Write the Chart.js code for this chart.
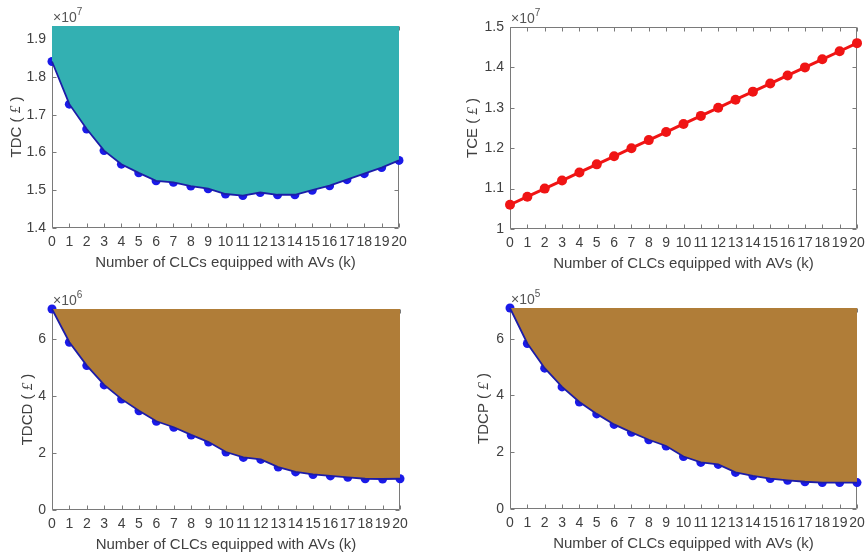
<!DOCTYPE html>
<html>
<head>
<meta charset="utf-8">
<script src="https://cdn.jsdelivr.net/npm/chart.js@4.4.1/dist/chart.umd.min.js"></script>
<style>
  body { margin: 0; background: #fff; width: 865px; height: 555px; position: relative; overflow: hidden; }
  canvas { position: absolute; }
</style>
</head>
<body>
<canvas id="tdc" style="left:0;top:0" width="435" height="280"></canvas>
<canvas id="tce" style="left:435px;top:0" width="430" height="280"></canvas>
<canvas id="tdcd" style="left:0;top:280px" width="435" height="275"></canvas>
<canvas id="tdcp" style="left:435px;top:280px" width="430" height="275"></canvas>
<script>
// number of CLCs equipped with AVs
const ks = ['0','1','2','3','4','5','6','7','8','9','10','11','12','13','14','15','16','17','18','19','20'];

// costs, in units of the axis exponent
const tdc  = [1.841, 1.728, 1.662, 1.605, 1.569, 1.546, 1.525, 1.521, 1.511, 1.504, 1.490,
              1.486, 1.494, 1.488, 1.488, 1.500, 1.512, 1.528, 1.544, 1.560, 1.579]; // x1e7
const tce  = [1.06, 1.08, 1.10, 1.12, 1.14, 1.16, 1.18, 1.20, 1.22, 1.24, 1.26,
              1.28, 1.30, 1.32, 1.34, 1.36, 1.38, 1.40, 1.42, 1.44, 1.46];          // x1e7
const tdcd = [7.07, 5.90, 5.08, 4.40, 3.90, 3.49, 3.12, 2.91, 2.64, 2.39, 2.04,
              1.85, 1.78, 1.51, 1.34, 1.25, 1.20, 1.15, 1.10, 1.09, 1.10];          // x1e6
const tdcp = [7.08, 5.83, 4.96, 4.30, 3.77, 3.35, 2.98, 2.70, 2.44, 2.22, 1.85,
              1.64, 1.57, 1.29, 1.17, 1.07, 1.01, 0.96, 0.93, 0.93, 0.93];          // x1e5

// y tick values and their labels
const tdcTicks = [1.4, 1.5, 1.6, 1.7, 1.8, 1.9];
const tdcTickLabels = ['1.4', '1.5', '1.6', '1.7', '1.8', '1.9'];
const tceTicks = [1, 1.1, 1.2, 1.3, 1.4, 1.5];
const tceTickLabels = ['1', '1.1', '1.2', '1.3', '1.4', '1.5'];
const lowTicks = [0, 2, 4, 6];
const lowTickLabels = ['0', '2', '4', '6'];

const xTitle = 'Number of CLCs equipped with AVs (k)';
const textColor = '#404040';
const axisColor = '#7a7a7a';
const sans = '"Liberation Sans", Arial, sans-serif';

// matlab-ish box with inward ticks, titles and the exponent label
const axesBox = {
  id: 'axesBox',
  beforeDatasetsDraw(chart, args, opts) {
    const { ctx, chartArea: a, scales: { x, y } } = chart;
    ctx.save();
    ctx.strokeStyle = axisColor;
    ctx.lineWidth = 1;
    const L = Math.round(a.left) + 0.5, R = Math.round(a.right) - 0.5;
    const T = Math.round(a.top) + 0.5, B = Math.round(a.bottom) - 0.5;
    ctx.beginPath();
    ctx.moveTo(L, T); ctx.lineTo(R, T); ctx.lineTo(R, B); ctx.lineTo(L, B); ctx.closePath();
    x.ticks.forEach((t, i) => {
      const px = Math.round(x.getPixelForTick(i)) + 0.5;
      ctx.moveTo(px, B); ctx.lineTo(px, B - 4);
      ctx.moveTo(px, T); ctx.lineTo(px, T + 4);
    });
    y.ticks.forEach(t => {
      const py = Math.round(y.getPixelForValue(t.value)) + 0.5;
      ctx.moveTo(L, py); ctx.lineTo(L + 4, py);
      ctx.moveTo(R, py); ctx.lineTo(R - 4, py);
    });
    ctx.stroke();
    ctx.restore();
  },
  afterDraw(chart, args, opts) {
    const { ctx, chartArea: a } = chart;
    ctx.save();
    ctx.fillStyle = textColor;

    // x title
    ctx.font = '15px ' + sans;
    ctx.textAlign = 'center';
    ctx.textBaseline = 'middle';
    ctx.fillText(xTitle, (a.left + a.right) / 2, a.bottom + 35);

    // y title, with an italic pound sign
    const parts = [
      [opts.yName + ' ( ', '15px ' + sans],
      ['\u00A3', 'italic 15px "Liberation Serif", serif'],
      [' )', '15px ' + sans]
    ];
    let total = 0;
    parts.forEach(p => { ctx.font = p[1]; p.push(ctx.measureText(p[0]).width); total += p[2]; });
    ctx.translate(opts.yTitleX, (a.top + a.bottom) / 2);
    ctx.rotate(-Math.PI / 2);
    ctx.textAlign = 'left';
    let cx = -total / 2;
    parts.forEach(p => { ctx.font = p[1]; ctx.fillText(p[0], cx, 0); cx += p[2]; });
    ctx.setTransform(1, 0, 0, 1, 0, 0);

    // x10^n above the y axis
    ctx.textBaseline = 'alphabetic';
    ctx.textAlign = 'left';
    ctx.font = '14px ' + sans;
    ctx.fillStyle = '#555';
    ctx.fillText('\u00D710', a.left + 1, a.top - 4);
    const w = ctx.measureText('\u00D710').width;
    ctx.font = '10px ' + sans;
    ctx.fillText(opts.exponent, a.left + 1 + w, a.top - 11);
    ctx.restore();
  }
};

function panel(id, cfg) {
  const datasets = [];
  if (cfg.fillColor) {
    // area to the top of the axes, drawn over the markers
    datasets.push({
      data: cfg.values,
      borderColor: cfg.edge,
      backgroundColor: cfg.fillColor,
      borderWidth: cfg.lineWidth,
      pointRadius: 0,
      fill: 'end',
      tension: 0
    });
  }
  datasets.push({
    data: cfg.values,
    borderColor: cfg.line,
    backgroundColor: cfg.line,
    pointBackgroundColor: cfg.line,
    pointBorderColor: cfg.line,
    borderWidth: cfg.fillColor ? 0 : cfg.lineWidth,
    showLine: !cfg.fillColor,
    pointRadius: cfg.pointRadius,
    pointBorderWidth: 0,
    fill: false,
    tension: 0,
    clip: false
  });

  new Chart(document.getElementById(id), {
    type: 'line',
    data: { labels: ks, datasets: datasets },
    options: {
      responsive: false,
      animation: false,
      layout: { padding: { top: cfg.padTop, right: cfg.padRight, bottom: 0, left: 0 } },
      plugins: {
        legend: { display: false },
        tooltip: { enabled: false },
        axesBox: { yName: cfg.yName, yTitleX: cfg.yTitleX, exponent: cfg.exponent }
      },
      scales: {
        x: {
          offset: false,
          grid: { display: false, drawTicks: false },
          border: { display: false },
          ticks: { autoSkip: false, maxRotation: 0, padding: 6, color: textColor, font: { family: sans, size: 14 } },
          afterFit(s) { s.height = cfg.xH; s.paddingLeft = 0; s.paddingRight = 0; }
        },
        y: {
          min: cfg.min,
          max: cfg.max,
          grid: { display: false, drawTicks: false },
          border: { display: false },
          ticks: {
            padding: 6,
            color: textColor,
            font: { family: sans, size: 14 },
            callback: (v, i) => cfg.tickLabels[i]
          },
          afterBuildTicks(s) { s.ticks = cfg.ticks.map(v => ({ value: v })); },
          afterFit(s) { s.width = cfg.yW; }
        }
      }
    },
    plugins: [axesBox]
  });
}

panel('tdc', {
  values: tdc, line: '#1a1ae8', edge: '#1c1ca8', fillColor: '#33b0b2', lineWidth: 1.8, pointRadius: 4.5,
  min: 1.4, max: 1.935, ticks: tdcTicks, tickLabels: tdcTickLabels,
  yName: 'TDC', exponent: '7', yTitleX: 16.5,
  yW: 52, padTop: 26, padRight: 36, xH: 52
});

panel('tce', {
  values: tce, line: '#f01414', lineWidth: 3, pointRadius: 5,
  min: 1, max: 1.5, ticks: tceTicks, tickLabels: tceTickLabels,
  yName: 'TCE', exponent: '7', yTitleX: 38,
  yW: 75, padTop: 27, padRight: 8, xH: 51
});

panel('tdcd', {
  values: tdcd, line: '#1a1ae8', edge: '#1c1ca8', fillColor: '#b07d38', lineWidth: 1.8, pointRadius: 4.5,
  min: 0, max: 7.07, ticks: lowTicks, tickLabels: lowTickLabels,
  yName: 'TDCD', exponent: '6', yTitleX: 28,
  yW: 52, padTop: 29, padRight: 35, xH: 45
});

panel('tdcp', {
  values: tdcp, line: '#1a1ae8', edge: '#1c1ca8', fillColor: '#b07d38', lineWidth: 1.8, pointRadius: 4.5,
  min: 0, max: 7.08, ticks: lowTicks, tickLabels: lowTickLabels,
  yName: 'TDCP', exponent: '5', yTitleX: 49,
  yW: 75, padTop: 28, padRight: 8, xH: 46
});
</script>
</body>
</html>
